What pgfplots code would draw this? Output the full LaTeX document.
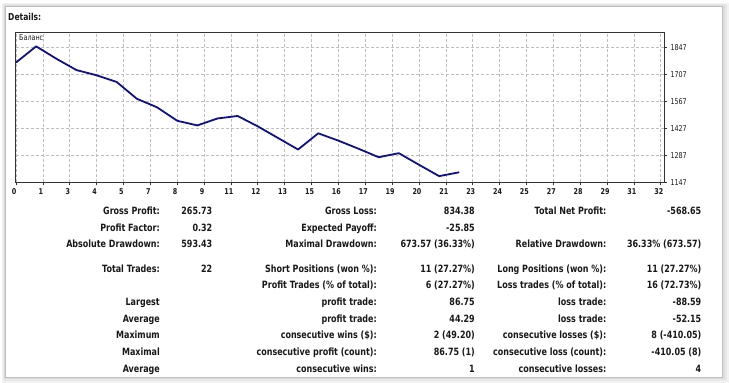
\documentclass[border=0pt]{standalone}
\usepackage{pgfplots}
\pgfplotsset{compat=1.18}
\usepackage{fontspec}
\setmainfont[FakeStretch=0.8]{DejaVu Sans}
\definecolor{bal}{RGB}{16,16,140}
\definecolor{txt}{RGB}{25,25,25}
\definecolor{gridc}{RGB}{190,190,190}
\newcommand{\tf}{\bfseries\fontsize{10}{12}\selectfont}
\newcommand{\rowt}[7]{%
  \node[anchor=base east,inner sep=0,text=txt,font=\tf] at (160pt,-#1pt) {#2};
  \node[anchor=base east,inner sep=0,text=txt,font=\tf] at (212.5pt,-#1pt) {#3};
  \node[anchor=base east,inner sep=0,text=txt,font=\tf] at (377pt,-#1pt) {#4};
  \node[anchor=base east,inner sep=0,text=txt,font=\tf] at (475pt,-#1pt) {#5};
  \node[anchor=base east,inner sep=0,text=txt,font=\tf] at (606.5pt,-#1pt) {#6};
  \node[anchor=base east,inner sep=0,text=txt,font=\tf] at (701.5pt,-#1pt) {#7};
}
\begin{document}
\begin{tikzpicture}
\useasboundingbox (0pt,0pt) rectangle (729pt,-383pt);
\fill[white] (0pt,0pt) rectangle (729pt,-383pt);
\fill[black!5] (2pt,-3pt) rectangle (729pt,-383pt);
\fill[black!9] (3pt,-4pt) rectangle (727pt,-381pt);
\fill[black!14] (4pt,-5pt) rectangle (725pt,-379pt);
\fill[white] (5pt,-6pt) rectangle (722pt,-377pt);
\draw[black!25,line width=0.6pt] (5pt,-6pt) rectangle (722pt,-377pt);
\node[anchor=base west,inner sep=0,text=txt,font=\bfseries\fontsize{9.5}{11}\selectfont] at (8pt,-20.5pt) {Details:};
\begin{axis}[
  at={(16pt,-182.3pt)}, anchor=south west,
  scale only axis, width=648pt, height=150pt,
  xmin=0, xmax=32.16, ymin=1147, ymax=1924.8,
  xtick={0,1.3333,2.6667,4,5.3333,6.6667,8,9.3333,10.6667,12,13.3333,14.6667,16,17.3333,18.6667,20,21.3333,22.6667,24,25.3333,26.6667,28,29.3333,30.6667,32},
  xticklabels={0,1,3,4,5,7,8,9,11,12,13,15,16,17,19,20,21,23,24,25,27,28,29,31,32},
  ytick={1147,1287,1427,1567,1707,1847},
  yticklabels={1147,1287,1427,1567,1707,1847},
  xtick pos=bottom, ytick pos=right, yticklabel pos=right,
  tick align=outside, major tick length=3pt,
  tick style={black!80,line width=0.6pt},
  grid=major,
  major grid style={gridc,dash pattern=on 3pt off 2pt,line width=0.7pt},
  axis line style={black!80,line width=1pt},
  ticklabel style={font=\fontsize{8}{9}\selectfont,text=txt},
  xticklabel style={xshift=-2pt,font=\bfseries\fontsize{8}{9}\selectfont},
]
\addplot[bal,line width=1.8pt,line join=round] coordinates {
(0,1768) (1,1852) (2,1788) (3,1729) (4,1702) (5,1667) (6,1580) (7,1536)
(8,1466) (9,1442) (10,1478) (11,1491) (12,1437) (13,1377) (14,1317)
(15,1401) (16,1363) (17,1321) (18,1277) (19,1298) (20,1238) (21,1179) (22,1199)
};
\end{axis}
\node[anchor=west,inner sep=0,text=txt,font=\fontsize{8}{9}\selectfont] at (19pt,-38pt) {Баланс};
\rowt{214.6}{Gross Profit:}{265.73}{Gross Loss:}{834.38}{Total Net Profit:}{-568.65}
\rowt{231.4}{Profit Factor:}{0.32}{Expected Payoff:}{-25.85}{}{}
\rowt{247.8}{Absolute Drawdown:}{593.43}{Maximal Drawdown:}{673.57 (36.33\%)}{Relative Drawdown:}{36.33\% (673.57)}
\rowt{272.2}{Total Trades:}{22}{Short Positions (won \%):}{11 (27.27\%)}{Long Positions (won \%):}{11 (27.27\%)}
\rowt{288.8}{}{}{Profit Trades (\% of total):}{6 (27.27\%)}{Loss trades (\% of total):}{16 (72.73\%)}
\rowt{305.4}{Largest}{}{profit trade:}{86.75}{loss trade:}{-88.59}
\rowt{322.0}{Average}{}{profit trade:}{44.29}{loss trade:}{-52.15}
\rowt{338.8}{Maximum}{}{consecutive wins (\$):}{2 (49.20)}{consecutive losses (\$):}{8 (-410.05)}
\rowt{355.4}{Maximal}{}{consecutive profit (count):}{86.75 (1)}{consecutive loss (count):}{-410.05 (8)}
\rowt{372.0}{Average}{}{consecutive wins:}{1}{consecutive losses:}{4}
\end{tikzpicture}
\end{document}
